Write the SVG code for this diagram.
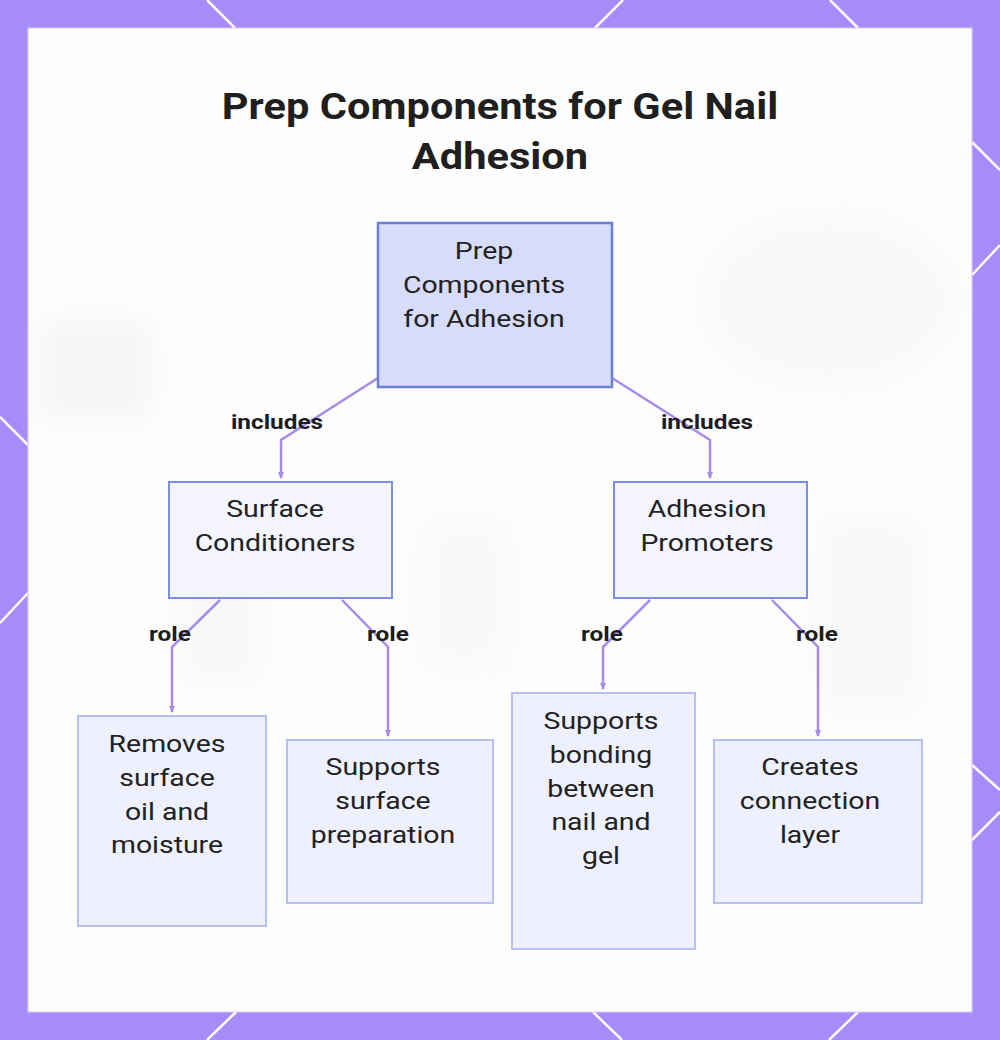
<svg xmlns="http://www.w3.org/2000/svg" width="1000" height="1040" viewBox="0 0 1000 1040">
<style>
.frame-line{stroke:#ffffff;stroke-width:2.5;fill:none}
.node-main{fill:#d8dcfb;stroke:#6b7fd6;stroke-width:2.5}
.node-mid{fill:#f4f5fe;stroke:#7d8fe0;stroke-width:2}
.node-leaf{fill:#eef1fd;stroke:#b7c1f1;stroke-width:2}
.t,.lbl,.title{transform-box:fill-box;transform-origin:center}
.t{font-family:Roboto,"Liberation Sans",sans-serif;font-size:24.5px;fill:#222222;text-anchor:middle;transform:scaleX(1.16)}
.lbl{font-family:Roboto,"Liberation Sans",sans-serif;font-size:21px;font-weight:700;fill:#1d1d1f;text-anchor:middle;transform:scaleX(1.16)}
.title{font-family:Roboto,"Liberation Sans",sans-serif;font-size:37px;font-weight:700;fill:#1f1f1f;text-anchor:middle;transform:scaleX(1.125)}
.edge{stroke:#a68ce8;stroke-width:2.5;fill:none}
</style>
<defs>
<marker id="arr" markerWidth="8" markerHeight="8" refX="6" refY="4" orient="auto" markerUnits="userSpaceOnUse">
<path d="M0,1 L7,4 L0,7 z" fill="#a68ce8"/>
</marker>
<filter id="blur" x="-50%" y="-50%" width="200%" height="200%"><feGaussianBlur stdDeviation="14"/></filter>
</defs>
<rect x="0" y="0" width="1000" height="1040" fill="#a78bfa"/>
<g id="frame-lines">
<line class="frame-line" x1="207" y1="0" x2="235" y2="28"/>
<line class="frame-line" x1="623" y1="0" x2="595" y2="28"/>
<line class="frame-line" x1="830" y1="0" x2="858" y2="28"/>
<line class="frame-line" x1="972" y1="142" x2="1000" y2="170"/>
<line class="frame-line" x1="1000" y1="245" x2="972" y2="275"/>
<line class="frame-line" x1="972" y1="765" x2="1000" y2="790"/>
<line class="frame-line" x1="1000" y1="812" x2="972" y2="840"/>
<line class="frame-line" x1="0" y1="417" x2="28" y2="445"/>
<line class="frame-line" x1="28" y1="593" x2="0" y2="623"/>
<line class="frame-line" x1="207" y1="1040" x2="236" y2="1012"/>
<line class="frame-line" x1="593" y1="1012" x2="622" y2="1040"/>
<line class="frame-line" x1="858" y1="1012" x2="829" y2="1040"/>
</g>
<rect x="28" y="28" width="944" height="984" fill="#fdfdfd" stroke="#d9cdfb" stroke-width="1"/>
<g id="backdrop" filter="url(#blur)" opacity="0.3">
<rect x="40" y="320" width="110" height="100" fill="#e4e4e6"/>
<ellipse cx="830" cy="300" rx="130" ry="90" fill="#eeeff4"/>
<rect x="180" y="520" width="80" height="160" fill="#ececee"/>
<rect x="420" y="520" width="90" height="150" fill="#efeff1"/>
<rect x="820" y="520" width="100" height="190" fill="#ededef"/>
</g>
<g id="title">
<text class="title" x="500" y="119">Prep Components for Gel Nail</text>
<text class="title" x="500" y="169">Adhesion</text>
</g>
<g id="connectors">
<polyline class="edge" points="378,378 281,440 281,478" marker-end="url(#arr)"/>
<polyline class="edge" points="612,378 710,440 710,478" marker-end="url(#arr)"/>
<polyline class="edge" points="220,600 172,647 172,712" marker-end="url(#arr)"/>
<polyline class="edge" points="342,600 388,647 388,736" marker-end="url(#arr)"/>
<polyline class="edge" points="650,600 603,647 603,689" marker-end="url(#arr)"/>
<polyline class="edge" points="772,600 818,647 818,736" marker-end="url(#arr)"/>
<text class="lbl" x="277" y="429">includes</text>
<text class="lbl" x="707" y="429">includes</text>
<text class="lbl" x="170" y="641">role</text>
<text class="lbl" x="388" y="641">role</text>
<text class="lbl" x="602" y="641">role</text>
<text class="lbl" x="817" y="641">role</text>
</g>
<g id="node-root">
<rect class="node-main" x="378" y="223" width="234" height="164"/>
<text class="t" x="484" y="259">Prep</text>
<text class="t" x="484" y="293">Components</text>
<text class="t" x="484" y="327">for Adhesion</text>
</g>
<g id="node-surface-conditioners">
<rect class="node-mid" x="169" y="482" width="223" height="116"/>
<text class="t" x="275" y="517">Surface</text>
<text class="t" x="275" y="551">Conditioners</text>
</g>
<g id="node-adhesion-promoters">
<rect class="node-mid" x="614" y="482" width="193" height="116"/>
<text class="t" x="707" y="517">Adhesion</text>
<text class="t" x="707" y="551">Promoters</text>
</g>
<g id="node-removes">
<rect class="node-leaf" x="78" y="716" width="188" height="210"/>
<text class="t" x="167" y="752">Removes</text>
<text class="t" x="167" y="786">surface</text>
<text class="t" x="167" y="820">oil and</text>
<text class="t" x="167" y="853">moisture</text>
</g>
<g id="node-supports-prep">
<rect class="node-leaf" x="287" y="740" width="206" height="163"/>
<text class="t" x="383" y="775">Supports</text>
<text class="t" x="383" y="809">surface</text>
<text class="t" x="383" y="843">preparation</text>
</g>
<g id="node-supports-bonding">
<rect class="node-leaf" x="512" y="693" width="183" height="256"/>
<text class="t" x="601" y="729">Supports</text>
<text class="t" x="601" y="763">bonding</text>
<text class="t" x="601" y="797">between</text>
<text class="t" x="601" y="830">nail and</text>
<text class="t" x="601" y="864">gel</text>
</g>
<g id="node-creates">
<rect class="node-leaf" x="714" y="740" width="208" height="163"/>
<text class="t" x="810" y="775">Creates</text>
<text class="t" x="810" y="809">connection</text>
<text class="t" x="810" y="843">layer</text>
</g>
</svg>
